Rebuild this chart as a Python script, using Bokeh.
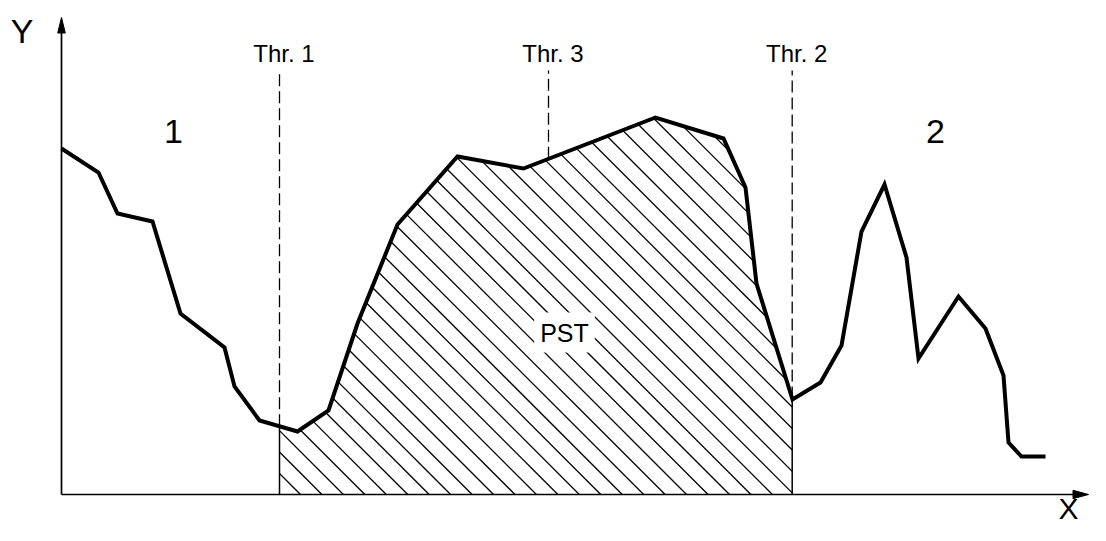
import numpy as np
from bokeh.plotting import figure
from bokeh.models import Range1d, Label
from bokeh.embed import file_html
from bokeh.resources import INLINE

# ---- data (1 unit = 10 px of the original drawing) ----
curve_x = [0, 3.7, 5.6, 9.1, 11.9, 16.3, 17.3, 19.8, 23.6, 26.7, 29.6, 33.6, 39.6,
           46.2, 59.4, 66.2, 68.4, 69.5, 73.1, 75.9, 78.0, 80.0, 82.3, 84.5, 85.7,
           89.7, 92.4, 94.2, 94.7, 96.0, 98.4]
curve_y = [34.6, 32.2, 28.1, 27.3, 18.1, 14.7, 10.8, 7.4, 6.3, 8.4, 17.1, 27.0, 33.8,
           32.6, 37.7, 35.6, 30.7, 21.1, 9.5, 11.2, 14.9, 26.3, 31.0, 23.7, 13.6,
           19.8, 16.6, 11.9, 5.2, 3.8, 3.8]
thr_names = ["Thr. 1", "Thr. 2", "Thr. 3"]
thr_x = [21.8, 73.07, 48.7]
thr_top = 42.4
thr_label_y = 44.1
region_names = ["1", "2"]
region_x = [11.2, 87.4]
region_y = 36.3
area_name = "PST"
area_pos = (50.3, 16.2)
axis_x_end = 102.7
axis_y_end = 47.7
axis_names = ["X", "Y"]

# hatch style (45 degree lines)
HATCH_PHASE = 23.9
HATCH_STEP = 2.145

FONT = "Liberation Sans"

p = figure(width=1090, height=525, output_backend="svg", toolbar_location=None,
           x_range=Range1d(-6.1, 102.9), y_range=Range1d(-3.1, 49.4),
           min_border=0, outline_line_color=None)
p.axis.visible = False
p.grid.visible = False
p.background_fill_color = "white"
p.border_fill_color = "white"

cx = np.array(curve_x, dtype=float)
cy = np.array(curve_y, dtype=float)

# hatched area between Thr. 1 and Thr. 2: lines x + y = c clipped to the area
t1, t2 = thr_x[0], thr_x[1]
xs_fine = np.linspace(t1, t2, 20001)
f = np.interp(xs_fine, cx, cy)
hx, hy = [], []
for c in HATCH_PHASE + HATCH_STEP * np.arange(-20, 60):
    yl = c - xs_fine
    inside = (yl >= 0) & (yl <= f)
    if not inside.any():
        continue
    edges = np.flatnonzero(np.diff(np.concatenate([[0], inside.astype(int), [0]])))
    for s, e in zip(edges[0::2], edges[1::2] - 1):
        xa, xb = xs_fine[s], xs_fine[e]
        hx.append([xa, xb])
        hy.append([c - xa, c - xb])
p.multi_line(hx, hy, line_color="black", line_width=1.3)

# threshold lines: solid below curve, dashed above
for name, tx in zip(thr_names, thr_x):
    ty = float(np.interp(tx, cx, cy))
    if tx in (t1, t2):
        p.line([tx, tx], [0, ty], line_color="black", line_width=1.5)
    p.line([tx, tx], [ty, thr_top], line_color="black", line_width=1.3, line_dash="12 5")
    p.add_layout(Label(x=tx, y=thr_label_y, x_offset=4.5, text=name,
                       text_align="center", text_baseline="middle",
                       text_font=FONT, text_font_size="24px", text_color="black"))

# axes with arrow heads
p.line([0, 0], [0, axis_y_end - 1.2], line_color="black", line_width=1.7)
p.line([0, axis_x_end - 1.2], [0, 0], line_color="black", line_width=1.7)
p.patch([0, -0.38, 0.38], [axis_y_end, axis_y_end - 1.55, axis_y_end - 1.55],
        fill_color="black", line_color="black", line_width=1)
p.patch([axis_x_end, axis_x_end - 1.55, axis_x_end - 1.55], [0, 0.42, -0.42],
        fill_color="black", line_color="black", line_width=1)

# curve
p.line(cx, cy, line_color="black", line_width=4, line_join="miter")

# region labels
for name, rx in zip(region_names, region_x):
    p.add_layout(Label(x=rx, y=region_y, text=name, text_align="center",
                       text_baseline="middle", text_font=FONT,
                       text_font_size="34px", text_color="black"))

p.add_layout(Label(x=area_pos[0], y=area_pos[1], text=area_name, text_align="center",
                   text_baseline="middle", text_font=FONT, text_font_size="25px",
                   text_color="black", background_fill_color="white", padding=6))

p.add_layout(Label(x=-3.95, y=46.4, text=axis_names[1], text_align="center",
                   text_baseline="middle", text_font=FONT, text_font_size="34px",
                   text_color="black"))
p.add_layout(Label(x=100.7, y=-1.4, text=axis_names[0], text_align="center",
                   text_baseline="middle", text_font=FONT, text_font_size="30px",
                   text_color="black"))

open("out.html", "w").write(file_html(p, INLINE))
